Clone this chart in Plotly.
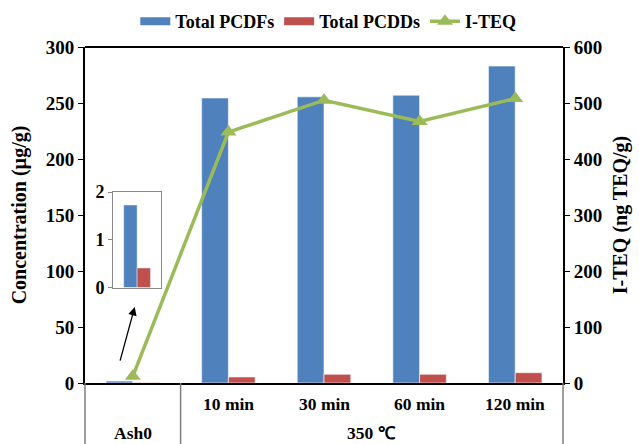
import plotly.graph_objects as go

categories = ["Ash0", "10 min", "30 min", "60 min", "120 min"]
pcdfs = [1.73, 254.5, 255.5, 257.0, 283.0]
pcdds = [0.41, 5.4, 7.8, 7.8, 9.2]
iteq = [12, 448, 505, 467, 508]
inset_cat = ["Ash0"]
inset_pcdfs = [1.73]
inset_pcdds = [0.41]
group_labels = ["Ash0", "350 \u2103"]
legend_names = ["Total PCDFs", "Total PCDDs", "I-TEQ"]

BLUE = "#4F81BD"
RED = "#C0504D"
GREEN = "#9BBB59"
FONT = "Liberation Serif"

fig = go.Figure()
fig.add_trace(go.Bar(x=categories, y=pcdfs, name=legend_names[0], marker_color=BLUE,
                     marker_line=dict(color="rgba(255,255,255,0.6)", width=1), showlegend=False,
                     legendgroup="f"))
fig.add_trace(go.Bar(x=categories, y=pcdds, name=legend_names[1], marker_color=RED,
                     marker_line=dict(color="rgba(255,255,255,0.6)", width=1), showlegend=False,
                     legendgroup="d"))
# legend entries drawn as wide swatches (legend only, no data)
fig.add_trace(go.Scatter(x=[None], y=[None], mode="lines", name="<b>%s</b>" % legend_names[0],
                         line=dict(color=BLUE, width=8), legendgroup="f"))
fig.add_trace(go.Scatter(x=[None], y=[None], mode="lines", name="<b>%s</b>" % legend_names[1],
                         line=dict(color=RED, width=8), legendgroup="d"))
fig.add_trace(go.Scatter(x=categories, y=iteq, name="<b>%s</b>" % legend_names[2], yaxis="y2",
                         mode="lines+markers",
                         line=dict(color=GREEN, width=3.5),
                         marker=dict(symbol="triangle-up", size=14, color=GREEN)))
# inset
fig.add_trace(go.Bar(x=inset_cat, y=inset_pcdfs, xaxis="x3", yaxis="y3", marker_color=BLUE,
                     showlegend=False))
fig.add_trace(go.Bar(x=inset_cat, y=inset_pcdds, xaxis="x3", yaxis="y3", marker_color=RED,
                     showlegend=False))

tickfont = dict(family=FONT, size=19, color="black")
fig.update_layout(
    width=639, height=444,
    margin=dict(l=85, r=76, t=47, b=61, autoexpand=False),
    paper_bgcolor="white", plot_bgcolor="white",
    barmode="group", bargap=0.44, bargroupgap=0,
    font=dict(family=FONT, color="black"),
    showlegend=True,
    legend=dict(orientation="h", x=0.509, xanchor="center", y=1.131, yanchor="top",
                font=dict(family=FONT, size=18, color="black"), itemwidth=30,
                tracegroupgap=0, bgcolor="rgba(0,0,0,0)"),
    xaxis=dict(type="category", categoryorder="array", categoryarray=categories,
               showticklabels=False, ticks="", showline=True, linecolor="black", linewidth=2,
               mirror=False, showgrid=False, domain=[0, 1]),
    yaxis=dict(range=[0, 300], dtick=50, showgrid=False, showline=True, linecolor="black",
               linewidth=2, ticks="outside", ticklen=5, tickcolor="black",
               tickfont=tickfont, tickprefix="<b>", ticksuffix="</b>",
               title=dict(text="<b>Concentration (\u00b5g/g)</b>", font=dict(family=FONT, size=20),
                          standoff=14),
               zeroline=False),
    yaxis2=dict(range=[0, 600], dtick=100, overlaying="y", side="right", showgrid=False,
                showline=True, linecolor="black", linewidth=2, ticks="outside", ticklen=5,
                tickcolor="black", tickfont=tickfont, tickprefix="<b>", ticksuffix="</b>",
                title=dict(text="<b>I-TEQ (ng TEQ/g)</b>", font=dict(family=FONT, size=20),
                           standoff=12),
                zeroline=False),
    xaxis3=dict(domain=[0.059, 0.159], anchor="y3", type="category", showticklabels=False,
                ticks="", showline=True, linecolor="#888888", linewidth=1, mirror=True,
                showgrid=False),
    yaxis3=dict(domain=[0.284, 0.568], anchor="x3", range=[0, 2], dtick=1, showgrid=False,
                showline=True, linecolor="#888888", linewidth=1, mirror=True,
                ticks="outside", ticklen=4, tickcolor="#888888",
                tickfont=dict(family=FONT, size=18, color="black"),
                tickprefix="<b>", ticksuffix="</b>", zeroline=False),
)

# top border of plot area
fig.add_shape(type="line", xref="paper", yref="paper", x0=0, x1=1, y0=1, y1=1,
              line=dict(color="black", width=2))

# table-like divider lines beneath the category axis
for xp in [0, 1]:
    fig.add_shape(type="line", xref="paper", yref="paper", x0=xp, x1=xp, y0=0, y1=-0.2,
                  line=dict(color="#7f7f7f", width=1.5))
fig.add_shape(type="line", xref="x", yref="paper", x0=0.5, x1=0.5, y0=0, y1=-0.2,
              line=dict(color="#7f7f7f", width=1.5))

# first-row labels (time)
for c in categories[1:]:
    fig.add_annotation(x=c, xref="x", y=-0.0616, yref="paper", yanchor="middle",
                       text="<b>%s</b>" % c, showarrow=False,
                       font=dict(family=FONT, size=17.5, color="black"))
# second-row labels (group)
fig.add_annotation(x=categories[0], xref="x", y=-0.148, yref="paper", yanchor="middle",
                   text="<b>%s</b>" % group_labels[0], showarrow=False,
                   font=dict(family=FONT, size=17.5, color="black"))
fig.add_annotation(x=2.5, xref="x", y=-0.148, yref="paper", yanchor="middle",
                   text="<b>%s</b>" % group_labels[1], showarrow=False,
                   font=dict(family=FONT, size=17.5, color="black"))

# arrow pointing to inset
fig.add_annotation(x=0.104, xref="paper", y=0.226, yref="paper", ax=-15, ay=55,
                   axref="pixel", ayref="pixel", text="", showarrow=True,
                   arrowhead=2, arrowsize=1.3, arrowwidth=1.3, arrowcolor="black")

fig.write_html("out.html")
